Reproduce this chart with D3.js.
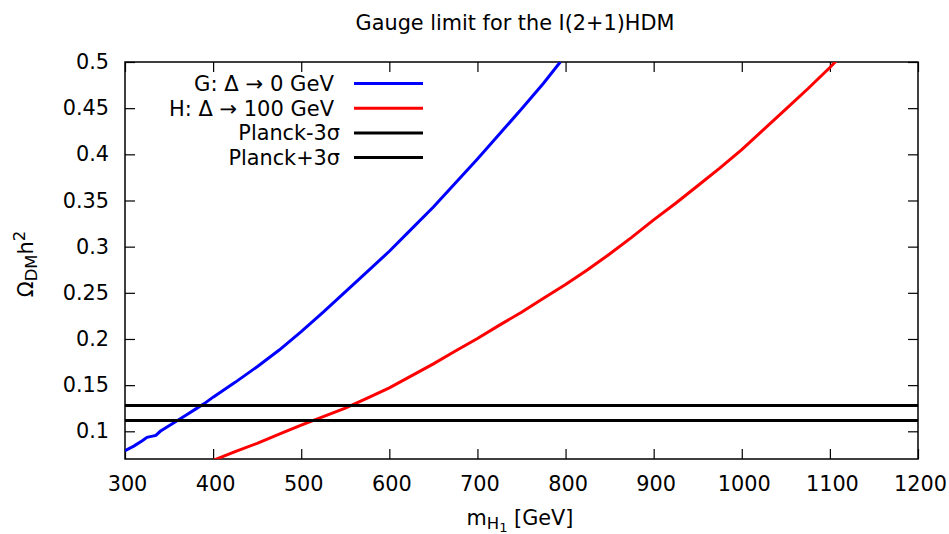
<!DOCTYPE html>
<html><head><meta charset="utf-8">
<script src="https://cdn.jsdelivr.net/npm/d3@7"></script>
<style>
body{margin:0;background:#fff;}
text{font-family:"DejaVu Sans",sans-serif;fill:#000;}
</style></head>
<body><svg id="c" width="949" height="534"></svg>
<script>
const blueMass = [300,310,320,325,330,335,340,350,360,370,380,390,400,425,450,475,500,525,550,575,600,625,650,675,700,725,750,775,794];
const blueOmega = [0.079,0.084,0.090,0.0935,0.0945,0.0955,0.100,0.106,0.112,0.118,0.124,0.130,0.137,0.153,0.170,0.188,0.208,0.229,0.251,0.273,0.295,0.319,0.343,0.369,0.395,0.422,0.449,0.477,0.5];
const redMass = [400,425,450,475,500,525,550,575,600,625,650,675,700,725,750,775,800,825,850,875,900,925,950,975,1000,1025,1050,1075,1100,1108];
const redOmega = [0.0685,0.078,0.087,0.097,0.1067,0.116,0.125,0.136,0.147,0.160,0.173,0.187,0.2005,0.215,0.229,0.244,0.259,0.275,0.292,0.310,0.329,0.347,0.366,0.385,0.405,0.427,0.449,0.471,0.494,0.502];
const planckMinus = 0.1118, planckPlus = 0.128;
const xTicks = [300,400,500,600,700,800,900,1000,1100,1200];
const yTicks = [0.1,0.15,0.2,0.25,0.3,0.35,0.4,0.45,0.5];
const legendLabels = ["G: Δ → 0 GeV","H: Δ → 100 GeV","Planck-3σ","Planck+3σ"];
const colors = ["#0000ff","#ff0000","#000","#000"];

const svg = d3.select("#c");
const L=125,R=918,T=62,B=459;
const x = d3.scaleLinear().domain([300,1200]).range([L,R]);
const y = d3.scaleLinear().domain([0.07,0.5]).range([B,T]);
const fs = 20.8;

svg.append("defs").append("clipPath").attr("id","clip").append("rect")
  .attr("x",L).attr("y",T).attr("width",R-L).attr("height",B-T);

// axes
const ax = d3.axisBottom(x).tickValues(xTicks).tickSize(-10).tickFormat(d3.format("d"));
const gx = svg.append("g").attr("transform",`translate(0,${B})`).call(ax);
const gxt = svg.append("g").attr("transform",`translate(0,${T})`).call(d3.axisTop(x).tickValues(xTicks).tickSize(-10).tickFormat(""));
const ay = d3.axisLeft(y).tickValues(yTicks).tickSize(-10).tickPadding(16).tickFormat(d=>String(+d.toFixed(2)));
const gy = svg.append("g").attr("transform",`translate(${L},0)`).call(ay);
const gyr = svg.append("g").attr("transform",`translate(${R},0)`).call(d3.axisRight(y).tickValues(yTicks).tickSize(-10).tickFormat(""));
[gx,gxt,gy,gyr].forEach(g=>{
  g.select(".domain").remove();
  g.selectAll(".tick line").attr("stroke","#000").attr("stroke-width",1.2);
  g.selectAll("text").attr("font-size",fs).attr("font-family","DejaVu Sans").attr("fill","#000");
});
gx.selectAll("text").attr("y",32).attr("dy",0).attr("x",2);
svg.append("rect").attr("x",L).attr("y",T).attr("width",R-L).attr("height",B-T)
  .attr("fill","none").attr("stroke","#000").attr("stroke-width",1.5);

const line = d3.line().x(d=>x(d[0])).y(d=>y(d[1]));
const plot = svg.append("g").attr("clip-path","url(#clip)");
plot.append("path").datum(blueMass.map((m,i)=>[m,blueOmega[i]]))
  .attr("d",line).attr("fill","none").attr("stroke",colors[0]).attr("stroke-width",3);
plot.append("path").datum(redMass.map((m,i)=>[m,redOmega[i]]))
  .attr("d",line).attr("fill","none").attr("stroke",colors[1]).attr("stroke-width",3);
[planckMinus,planckPlus].forEach(v=>{
  plot.append("path").datum([[300,v],[1200,v]]).attr("d",line)
    .attr("fill","none").attr("stroke","#000").attr("stroke-width",3);
});

// legend
const legendEnd = [334,334,340,340];
const legendLen = [140,165,null,null];
const lg = svg.append("g");
legendLabels.forEach((t,i)=>{
  const yy = 83.5 + i*24.7;
  const tx = lg.append("text").attr("x",legendEnd[i]).attr("y",yy).attr("dy","0.36em").attr("text-anchor","end")
    .attr("font-size",fs).text(t);
  if (legendLen[i]) tx.attr("textLength",legendLen[i]).attr("lengthAdjust","spacingAndGlyphs");
  lg.append("line").attr("x1",354).attr("x2",423).attr("y1",yy).attr("y2",yy)
    .attr("stroke",colors[i]).attr("stroke-width",3);
});

// title
svg.append("text").attr("x",515).attr("y",30).attr("text-anchor","middle").attr("font-size",fs)
  .text("Gauge limit for the I(2+1)HDM");

// x label
const xl = svg.append("text").attr("x",520).attr("y",525).attr("text-anchor","middle").attr("font-size",fs);
xl.append("tspan").text("m");
xl.append("tspan").attr("font-size",16.5).attr("dy",4).text("H");
xl.append("tspan").attr("font-size",13).attr("dy",3).text("1");
xl.append("tspan").attr("dy",-7).text(" [GeV]");

// y label
const yl = svg.append("text").attr("transform","translate(33,264) rotate(-90)").attr("text-anchor","middle").attr("font-size",fs);
yl.append("tspan").text("Ω");
yl.append("tspan").attr("font-size",16.5).attr("dy",4).text("DM");
yl.append("tspan").attr("dy",-4).text("h");
yl.append("tspan").attr("font-size",16.5).attr("dy",-8).text("2");
</script></body></html>
